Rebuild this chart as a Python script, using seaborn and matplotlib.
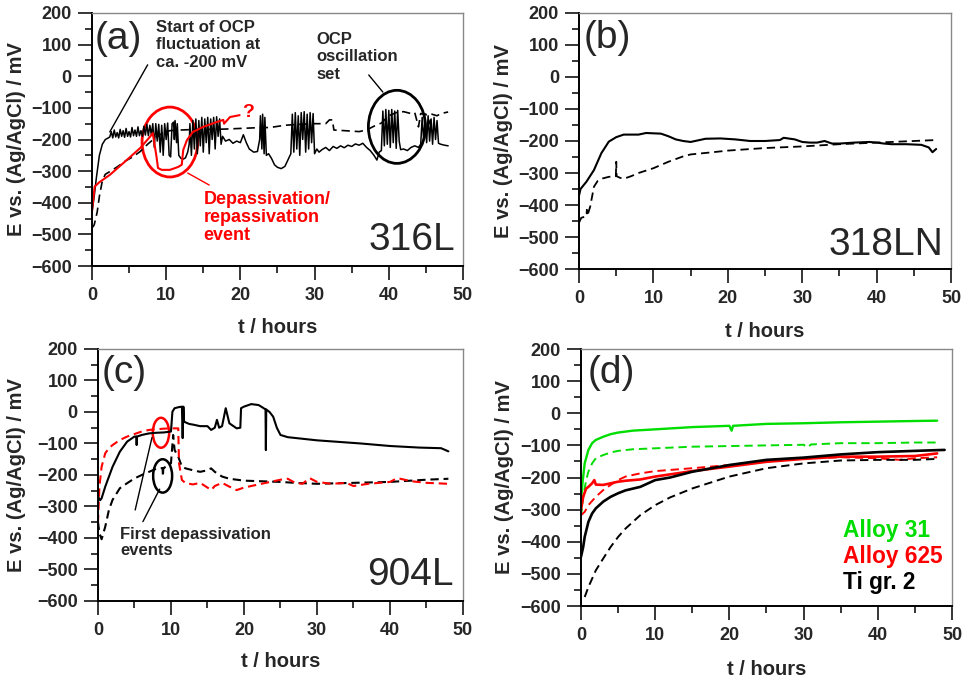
import matplotlib
matplotlib.use("Agg")
import matplotlib.pyplot as plt
from matplotlib.patches import Ellipse
from matplotlib.ticker import MultipleLocator
import seaborn as sns

# ---------------- data ----------------
# (a) 316L
a_solid_t = [0, 0.3, 0.6, 1.0, 1.4, 1.8, 2.2,
             2.4, 2.6, 2.8, 3.0, 3.2, 3.4, 3.6, 3.8, 4.0, 4.2, 4.4, 4.6, 4.8, 5.0, 5.2, 5.4, 5.6, 5.8,
             6.0, 6.2, 6.4, 6.6, 6.8, 7.0, 7.2, 7.4, 7.6, 7.8, 8.0, 8.2, 8.4, 8.6, 8.8, 9.0, 9.2, 9.4,
             9.6, 9.8, 10.0, 10.2, 10.4, 10.6, 10.8, 11.0, 11.1, 11.2, 11.4, 11.5, 11.7, 12.0, 12.3,
             12.6, 12.9, 13.1, 13.2, 13.4, 13.6, 13.8, 14.0, 14.2, 14.4, 14.6, 14.8, 15.0, 15.2, 15.4,
             15.6, 15.8, 16.0, 16.2, 16.4, 16.6, 16.8, 17.0, 17.2, 17.4, 17.6, 18.0, 18.5, 19.0, 19.5,
             20.0, 20.4, 20.8, 21.2, 21.8, 22.3, 22.6, 22.7, 22.9, 23.0, 23.2, 23.3, 23.5, 23.8, 24.2,
             24.6, 25.0, 25.5, 26.0, 26.4, 26.8, 27.0, 27.2, 27.4, 27.6, 27.8, 28.0, 28.2, 28.4, 28.6,
             28.8, 29.0, 29.2, 29.4, 29.6, 29.8, 30.0, 30.3, 30.6, 31.0, 31.5, 32.0, 32.5, 33.0, 33.5,
             34.0, 34.5, 35.0, 35.5, 36.0, 36.5, 37.0, 37.5, 38.0, 38.4, 38.7, 39.0, 39.2, 39.4, 39.6,
             39.8, 40.0, 40.2, 40.4, 40.6, 40.8, 41.0, 41.2, 41.4, 41.6, 42.0, 42.5, 43.0, 43.5, 44.0,
             44.3, 44.5, 44.7, 44.9, 45.1, 45.3, 45.5, 45.7, 45.9, 46.1, 46.3, 46.5, 46.7, 47.0, 47.5, 48.0]
a_solid_E = [-430, -380, -320, -250, -215, -200, -195,
             -192, -175, -195, -170, -192, -178, -195, -168, -190, -172, -193, -165, -190, -175, -192, -162, -188, -170,
             -190, -160, -188, -172, -190, -158, -186, -152, -188, -155, -185, -150, -225, -150, -205, -152, -240, -155,
             -250, -150, -200, -148, -250, -255, -150, -145, -200, -140, -210, -150, -250, -260, -262,
             -258, -240, -215, -150, -250, -140, -230, -135, -245, -140, -220, -130, -240, -135, -210,
             -130, -245, -135, -200, -130, -230, -128, -190, -135, -215, -190, -205, -200, -212, -205,
             -210, -185, -210, -230, -240, -238, -200, -125, -230, -120, -245, -130, -250, -245, -260,
             -280, -288, -292, -285, -265, -245, -120, -240, -115, -230, -125, -250, -115, -200, -112,
             -240, -120, -230, -115, -210, -118, -245, -230, -240, -232, -225, -235, -222, -228, -220,
             -226, -218, -222, -214, -218, -212, -225, -235, -250, -265, -240, -235, -110, -220, -105,
             -215, -108, -225, -105, -210, -110, -228, -108, -205, -232, -230, -235, -225, -220, -225,
             -215, -130, -200, -140, -210, -125, -205, -135, -215, -130, -200, -140, -212, -215, -218, -220]
a_dash_t = [0, 0.3, 0.7, 1.0, 1.4, 1.8, 2.5, 3.5, 4.5, 5.5, 6.5, 7.5, 8.5, 9.5, 10.5, 12, 14, 16, 18, 20,
            22, 24, 26, 28, 30, 31.5, 32, 32.4, 32.6, 34, 36, 37, 38, 39, 40, 41, 42, 43, 43.5, 44, 44.3,
            45, 45.5, 45.8, 46.5, 47, 48]
a_dash_E = [-480, -470, -430, -380, -330, -310, -300, -285, -268, -255, -238, -215, -195, -180, -172, -170,
            -168, -168, -167, -165, -163, -162, -155, -152, -150, -150, -138, -138, -170, -172, -175, -170,
            -158, -148, -125, -115, -112, -118, -115, -160, -118, -120, -150, -120, -125, -118, -113]
a_red_t = [0, 0.36, 1.0, 2.4, 4.2, 6.5, 7.8, 8.2, 8.7, 8.9, 9.4, 10.5, 11.6, 12.1, 12.3, 12.8, 13.6, 15.0,
           16.8, 17.7, 17.8, 18.6, 19.9]
a_red_E = [-428, -349, -335, -312, -275, -227, -192, -180, -255, -290, -296, -296, -287, -280, -233, -202,
           -176, -160, -145, -138, -150, -129, -123]

# (b) 318LN
b_solid_t = [0, 0.2, 1, 2, 3, 4, 5, 6, 8, 9, 11, 12, 13, 14, 15, 16, 17, 19, 21, 23, 25, 27, 27.5, 29, 30,
             31, 32, 33, 34, 35, 37, 39, 40, 41, 42, 44, 46, 47, 47.5, 48]
b_solid_E = [-370, -350, -327, -291, -238, -202, -188, -180, -180, -175, -177, -185, -195, -200, -203, -198,
             -193, -192, -195, -200, -200, -197, -190, -195, -203, -205, -205, -200, -208, -208, -205, -203,
             -205, -208, -210, -210, -212, -220, -235, -225]
b_dash_t = [0, 0.3, 1.0, 1.05, 1.1, 1.5, 2.0, 2.5, 3, 4, 4.95, 5.0, 5.05, 5.5, 6, 7, 8, 10, 12, 14, 15, 18,
            20, 25, 30, 35, 40, 45, 48]
b_dash_E = [-455, -440, -435, -415, -435, -405, -343, -325, -318, -312, -310, -265, -310, -315, -318, -310,
            -300, -285, -265, -248, -242, -235, -230, -222, -217, -210, -205, -200, -197]

# (c) 904L
c_solid_t = [0, 0.3, 0.5, 1, 2, 3, 4, 5, 5.25, 5.3, 5.35, 6, 7, 8, 9, 10, 10.2, 10.5, 11, 11.5, 11.6, 11.7,
             11.8, 12.5, 13, 14, 15, 15.5, 16, 16.3, 16.6, 17, 17.5, 18, 19, 19.5, 19.6, 20, 21, 22, 22.5,
             22.95, 23.0, 23.05, 23.5, 24, 24.5, 25, 26, 28, 30, 33, 36, 40, 44, 47, 48]
c_solid_E = [-269, -280, -274, -237, -174, -126, -94, -78, -78, -105, -78, -73, -68, -66, -65, -62, 1, 12,
             15, 17, -83, 17, -31, -38, -40, -45, -45, -57, -50, -25, -50, -45, 12, -36, -52, -50, 12, 17,
             25, 22, 15, 8, -121, 8, 0, -15, -50, -73, -80, -85, -90, -95, -100, -108, -113, -115, -125]
c_dash_t = [0, 0.2, 0.5, 1, 1.5, 2, 3, 4, 5, 6, 7, 8, 8.85, 8.9, 8.95, 9, 10, 10.3, 10.5, 11, 11.5, 12, 13,
            14, 15, 15.5, 16, 17, 18, 20, 25, 27, 30, 35, 40, 45, 48]
c_dash_E = [-348, -385, -404, -364, -311, -279, -242, -226, -211, -200, -190, -180, -178, -205, -178, -178,
            -163, -73, -121, -142, -174, -179, -185, -190, -185, -179, -190, -205, -212, -218, -222, -225,
            -228, -225, -222, -215, -212]
c_red_t = [0, 0.2, 0.5, 1, 1.5, 2, 3, 4, 5, 6, 7, 8, 9, 10, 11, 11.1, 11.5, 12, 13, 14, 15, 15.5, 16, 17,
           18, 19, 20, 22, 25, 26, 27, 28, 29, 30, 32, 34, 35, 37, 40, 41, 43, 45, 48]
c_red_E = [-353, -237, -174, -131, -115, -105, -89, -78, -70, -62, -57, -55, -53, -52, -52, -163, -216,
           -226, -230, -225, -240, -248, -235, -225, -237, -248, -240, -230, -215, -212, -225, -228, -210,
           -222, -228, -225, -235, -228, -222, -210, -220, -225, -228]

# (d) Alloy 31 / Alloy 625 / Ti gr. 2
d_g_solid_t = [0, 0.2, 0.5, 1, 1.5, 2, 3, 4, 5, 7, 10, 15, 20, 20.3, 20.5, 25, 30, 35, 40, 45, 48]
d_g_solid_E = [-275, -218, -156, -114, -93, -83, -73, -65, -60, -54, -50, -43, -39, -54, -39, -33, -31,
               -28, -26, -24, -23]
d_g_dash_t = [0, 0.3, 0.7, 1, 1.5, 2, 3, 4, 5, 7, 10, 15, 20, 25, 30, 30.5, 31, 35, 40, 45, 48]
d_g_dash_E = [-322, -260, -208, -182, -156, -140, -130, -122, -117, -112, -109, -104, -102, -100, -98,
              -106, -97, -93, -93, -91, -91]
d_r_solid_t = [0, 0.3, 0.7, 1, 1.5, 1.8, 2, 3, 4, 5, 6, 8, 10, 15, 20, 25, 30, 35, 40, 45, 48]
d_r_solid_E = [-301, -260, -234, -229, -218, -208, -222, -223, -218, -213, -210, -206, -197, -180, -166,
               -151, -142, -135, -135, -133, -125]
d_r_dash_t = [0, 0.5, 1, 2, 3, 4, 5, 6, 8, 10, 15, 20, 25, 30, 35, 40, 43, 45, 48]
d_r_dash_E = [-317, -307, -286, -260, -239, -223, -208, -197, -187, -180, -171, -161, -148, -140, -137,
              -140, -145, -140, -137]
d_k_solid_t = [0, 0.3, 0.5, 1, 1.5, 2, 3, 4, 5, 6, 8, 10, 12, 15, 20, 25, 30, 35, 40, 45, 49]
d_k_solid_E = [-447, -416, -385, -338, -312, -296, -275, -260, -249, -240, -229, -208, -200, -182, -161,
               -145, -138, -128, -121, -117, -114]
d_k_dash_t = [0.5, 1, 2, 3, 4, 5, 6, 8, 10, 12, 15, 20, 25, 30, 35, 40, 45, 48]
d_k_dash_E = [-572, -541, -489, -452, -416, -385, -359, -317, -286, -262, -234, -197, -171, -156, -147,
              -145, -145, -142]

panel_letters = ["(a)", "(b)", "(c)", "(d)"]
alloy_names = ["316L", "318LN", "904L"]
legend_names = ["Alloy 31", "Alloy 625", "Ti gr. 2"]
x_ticks = [0, 10, 20, 30, 40, 50]
y_ticks = [-600, -500, -400, -300, -200, -100, 0, 100, 200]

# ---------------- style ----------------
sns.set_style("ticks")
plt.rcParams["font.family"] = ["Liberation Sans", "DejaVu Sans"]
plt.rcParams["lines.scale_dashes"] = False

GREEN = "#00dd00"
RED = "#ff0000"
DASH = (0, (6, 3.5))

fig = plt.figure(figsize=(9.67, 6.8), dpi=100)
axes_rects = [
    [0.0951, 0.6088, 0.3837, 0.3721],
    [0.5988, 0.6044, 0.3847, 0.3765],
    [0.1013, 0.1162, 0.3775, 0.3706],
    [0.6008, 0.1088, 0.3837, 0.3779],
]
ylabel_x = [-0.178, -0.177, -0.197, -0.18]
xlabel_y = [-0.206, -0.207, -0.201, -0.21]
letter_pos = [(0.008, 0.968), (0.013, 0.973), (0.011, 0.976), (0.019, 0.977)]
axs = [fig.add_axes(r) for r in axes_rects]


def line(ax, t, e, color="black", dashed=False, lw=1.4):
    kw = dict(x=t, y=e, ax=ax, color=color, lw=lw, estimator=None, sort=False)
    if dashed:
        kw["linestyle"] = DASH
    sns.lineplot(**kw)


line(axs[0], a_solid_t, a_solid_E, lw=1.1)
line(axs[0], a_dash_t, a_dash_E, dashed=True, lw=1.2)
line(axs[0], a_red_t, a_red_E, color=RED, lw=1.5)

line(axs[1], b_solid_t, b_solid_E, lw=1.5)
line(axs[1], b_dash_t, b_dash_E, dashed=True, lw=1.3)

line(axs[2], c_solid_t, c_solid_E, lw=1.5)
line(axs[2], c_dash_t, c_dash_E, dashed=True, lw=1.5)
line(axs[2], c_red_t, c_red_E, color=RED, dashed=True, lw=1.5)

line(axs[3], d_g_solid_t, d_g_solid_E, color=GREEN, lw=1.7)
line(axs[3], d_g_dash_t, d_g_dash_E, color=GREEN, dashed=True, lw=1.4)
line(axs[3], d_r_solid_t, d_r_solid_E, color=RED, lw=1.9)
line(axs[3], d_r_dash_t, d_r_dash_E, color=RED, dashed=True, lw=1.4)
line(axs[3], d_k_solid_t, d_k_solid_E, lw=1.9)
line(axs[3], d_k_dash_t, d_k_dash_E, dashed=True, lw=1.4)

for i, ax in enumerate(axs):
    ax.set_xlim(0, 50)
    ax.set_ylim(-600, 200)
    ax.set_xticks(x_ticks)
    ax.set_yticks(y_ticks)
    ax.xaxis.set_minor_locator(MultipleLocator(5))
    ax.yaxis.set_minor_locator(MultipleLocator(50))
    ax.tick_params(which="both", direction="out", bottom=True, left=True, top=False, right=False,
                   color="black", width=1.1)
    ax.tick_params(which="major", length=10, labelsize=13)
    ax.tick_params(which="minor", length=5)
    ax.tick_params(axis="x", which="major", pad=5)
    ax.tick_params(axis="y", which="major", pad=4.5)
    for lab in ax.get_xticklabels() + ax.get_yticklabels():
        lab.set_fontweight("bold")
    for s in ["left", "bottom"]:
        ax.spines[s].set_visible(True)
        ax.spines[s].set_color("black")
        ax.spines[s].set_linewidth(1.4)
    for s in ["top", "right"]:
        ax.spines[s].set_visible(True)
        ax.spines[s].set_color("#888888")
        ax.spines[s].set_linewidth(1.0)
    ax.set_xlabel("t / hours", fontsize=14.5, fontweight="bold")
    ax.set_ylabel("E vs. (Ag/AgCl) / mV", fontsize=14.5, fontweight="bold")
    ax.xaxis.set_label_coords(0.5, xlabel_y[i])
    ax.yaxis.set_label_coords(ylabel_x[i], 0.5)
    ax.text(letter_pos[i][0], letter_pos[i][1], panel_letters[i], transform=ax.transAxes,
            fontsize=28, ha="left", va="top")

# alloy names
axs[0].text(0.978, 0.063, alloy_names[0], transform=axs[0].transAxes, fontsize=28,
            ha="right", va="baseline")
axs[1].text(0.978, 0.055, alloy_names[1], transform=axs[1].transAxes, fontsize=28,
            ha="right", va="baseline")
axs[2].text(0.973, 0.063, alloy_names[2], transform=axs[2].transAxes, fontsize=28,
            ha="right", va="baseline")

# (a) annotations
ax = axs[0]
ax.text(8.6, 178, "Start of OCP\nfluctuation at\nca. -200 mV", fontsize=12, fontweight="bold",
        ha="left", va="top", linespacing=1.2)
ax.plot([2.4, 7.5], [-176, 36], color="black", lw=1.0)
ax.text(30.2, 140, "OCP\noscillation\nset", fontsize=12, fontweight="bold",
        ha="left", va="top", linespacing=1.2)
ax.plot([37.3, 39.2], [4, -50], color="black", lw=1.0)
ax.add_patch(Ellipse((41.1, -160), 7.7, 231, fill=False, edgecolor="black", lw=2.0))
ax.add_patch(Ellipse((10.5, -208), 7.5, 221, fill=False, edgecolor=RED, lw=2.0))
ax.plot([12.9, 15.8], [-306, -344], color=RED, lw=1.0)
ax.text(15.0, -362, "Depassivation/\nrepassivation\nevent", fontsize=13, fontweight="bold",
        color=RED, ha="left", va="top", linespacing=1.1)
ax.text(21.0, -116, "?", fontsize=14, fontweight="bold", color=RED, ha="center", va="center")

# (c) annotations
ax = axs[2]
ax.add_patch(Ellipse((8.63, -66), 2.24, 95, fill=False, edgecolor=RED, lw=1.8))
ax.add_patch(Ellipse((8.86, -203), 2.6, 106, fill=False, edgecolor="black", lw=1.8))
ax.plot([5.1, 7.4], [-311, -81], color="black", lw=1.0)
ax.plot([6.16, 8.45], [-348, -245], color="black", lw=1.0)
ax.text(3.06, -366, "First depassivation\nevents", fontsize=12, fontweight="bold",
        ha="left", va="top", linespacing=1.1)

# (d) legend text
ax = axs[3]
for name, yv, col in zip(legend_names, [-385, -466, -546], [GREEN, RED, "black"]):
    ax.text(35.3, yv, name, fontsize=16.3, fontweight="bold", color=col, ha="left", va="baseline")

fig.savefig("out.png", dpi=100)
